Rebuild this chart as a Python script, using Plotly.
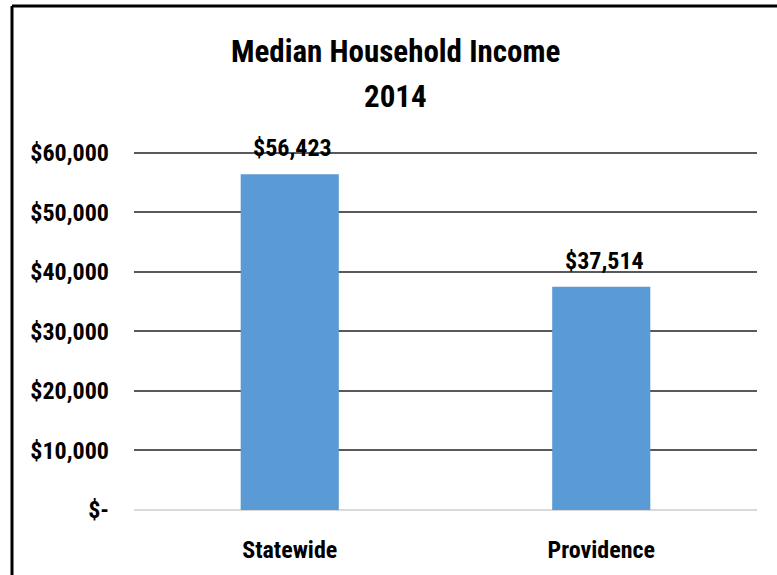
import plotly.graph_objects as go

categories = ["Statewide", "Providence"]
values = [56423, 37514]
value_labels = ["$56,423", "$37,514"]
tick_values = [0, 10000, 20000, 30000, 40000, 50000, 60000]
tick_labels = ["$-", "$10,000", "$20,000", "$30,000", "$40,000", "$50,000", "$60,000"]
title_lines = ["Median Household Income", "2014"]

FONT = "Liberation Sans Narrow, Roboto Condensed, Arial Narrow, sans-serif"

fig = go.Figure()
fig.add_trace(go.Bar(
    x=categories, y=values,
    marker=dict(color="#5B9BD5", line=dict(width=0)),
    width=0.315,
    hoverinfo="skip",
))

for c, v, t in zip(categories, values, value_labels):
    fig.add_annotation(x=c, y=v, text=f"<b>{t}</b>", showarrow=False,
                       yanchor="middle", yshift=26, xshift=3,
                       font=dict(family=FONT, size=24, color="#000000"))

fig.add_annotation(xref="paper", yref="paper", x=(395 - 134) / 623, y=(510 - 52) / 363,
                   text=f"<b>{title_lines[0]}</b>", showarrow=False, yanchor="middle",
                   font=dict(family=FONT, size=31, color="#000000"))
fig.add_annotation(xref="paper", yref="paper", x=(395 - 134) / 623, y=(510 - 97) / 363,
                   text=f"<b>{title_lines[1]}</b>", showarrow=False, yanchor="middle",
                   font=dict(family=FONT, size=31, color="#000000"))

# outer frame: only left and top edges are visible in the picture
fx0 = (12 - 134) / 623
fx1 = (800 - 134) / 623
fy_top = (510 - 6) / 363
fy_bot = (510 - 600) / 363
fig.add_shape(type="line", xref="paper", yref="paper",
              x0=fx0, x1=fx0, y0=fy_bot, y1=fy_top,
              line=dict(color="#000000", width=3), layer="above")
fig.add_shape(type="line", xref="paper", yref="paper",
              x0=fx0, x1=fx1, y0=fy_top, y1=fy_top,
              line=dict(color="#000000", width=3), layer="above")

fig.update_layout(
    width=777, height=575,
    margin=dict(l=134, r=20, t=147, b=65),
    paper_bgcolor="#ffffff", plot_bgcolor="#ffffff",
    showlegend=False,
    font=dict(family=FONT, size=24, color="#000000"),
)
fig.update_yaxes(
    range=[0, 61000], tickvals=tick_values,
    ticktext=[f"<b>{t}</b>" for t in tick_labels],
    showgrid=True, gridcolor="#595959", gridwidth=1.5,
    zeroline=True, zerolinecolor="#D9D9D9", zerolinewidth=1.5,
    showline=False, ticks="", ticklabelstandoff=24,
    tickfont=dict(family=FONT, size=24, color="#000000"),
)
fig.update_xaxes(
    showgrid=False, showline=False, ticks="", ticklabelstandoff=23,
    tickvals=categories, ticktext=[f"<b>{c}</b>" for c in categories],
    tickfont=dict(family=FONT, size=24, color="#000000"),
)

fig.write_html("out.html", config={"displayModeBar": False},
               post_script="document.body.style.margin='0';document.body.style.overflow='hidden';")
